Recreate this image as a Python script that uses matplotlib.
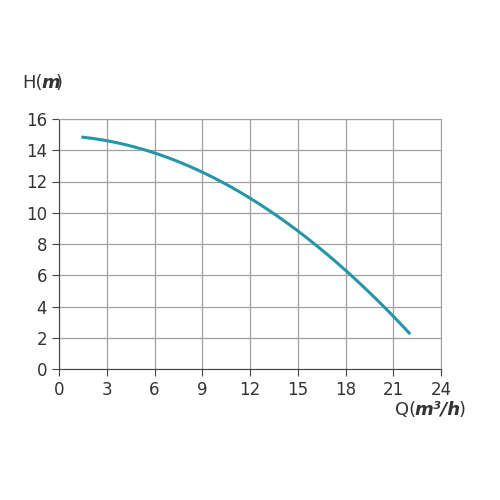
import numpy as np
import matplotlib.pyplot as plt

q = [1.5, 3, 6, 9, 12, 15, 18, 21, 22]
h = [14.85, 14.6, 13.8, 12.6, 11.0, 8.8, 6.3, 3.4, 2.3]
x_ticks = [0, 3, 6, 9, 12, 15, 18, 21, 24]
y_ticks = [0, 2, 4, 6, 8, 10, 12, 14, 16]

fig = plt.figure(figsize=(5, 5), dpi=100)
ax = fig.add_axes([0.118, 0.262, 0.764, 0.5])

qs = np.linspace(q[0], q[-1], 200)
coef = np.polyfit(q, h, 3)
ax.plot(qs, np.polyval(coef, qs), color="#2596a6", lw=2.2)

ax.set_xlim(0, 24)
ax.set_ylim(0, 16)
ax.set_xticks(x_ticks)
ax.set_yticks(y_ticks)
ax.grid(True, color="#a0a0a0", lw=0.9)
for s in ax.spines.values():
    s.set_color("#a0a0a0")
ax.spines["left"].set_color("#444444")
ax.spines["bottom"].set_color("#444444")
ax.tick_params(colors="#444444", labelsize=12, length=5, labelcolor="#333333")

fig.text(0.045, 0.825, "H(", fontsize=13, color="#333333")
fig.text(0.082, 0.825, "m", fontsize=13, color="#333333", fontweight="bold", style="italic")
fig.text(0.112, 0.825, ")", fontsize=13, color="#333333")

fig.text(0.79, 0.17, "Q(", fontsize=13, color="#333333")
fig.text(0.829, 0.17, "m³/h", fontsize=13, color="#333333", fontweight="bold", style="italic")
fig.text(0.918, 0.17, ")", fontsize=13, color="#333333")

fig.savefig("out.png", dpi=100)
